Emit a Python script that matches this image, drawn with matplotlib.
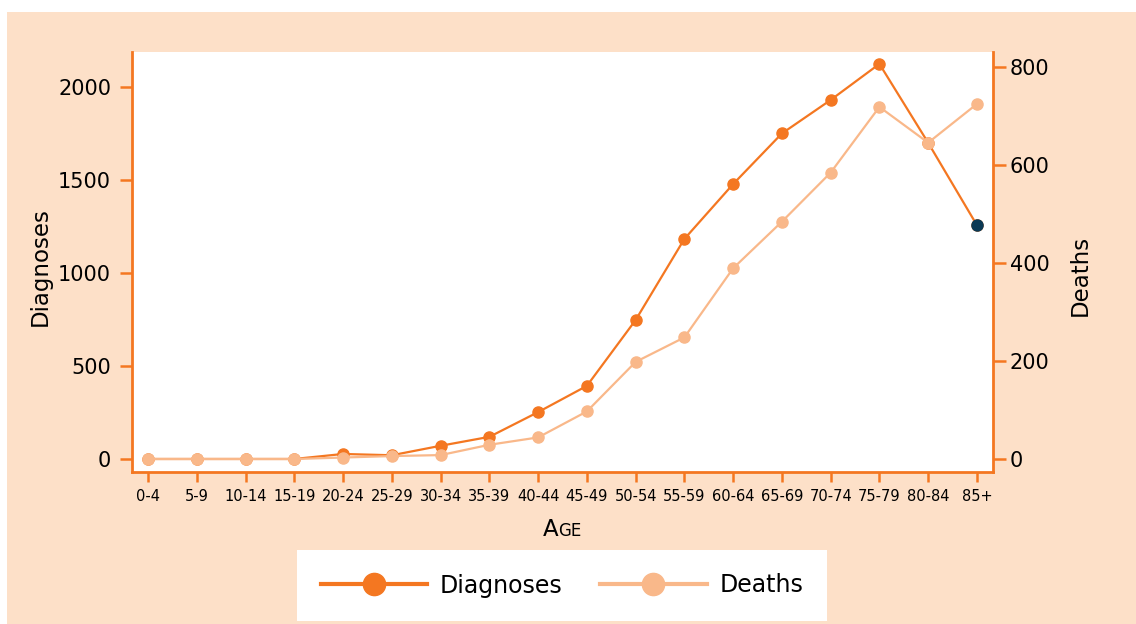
import matplotlib.pyplot as plt
from matplotlib.lines import Line2D
from matplotlib.patches import Rectangle

# data
age_groups = ['0-4', '5-9', '10-14', '15-19', '20-24', '25-29', '30-34', '35-39', '40-44',
              '45-49', '50-54', '55-59', '60-64', '65-69', '70-74', '75-79', '80-84', '85+']
diagnoses = [0, 0, 0, 0, 27, 20, 71, 119, 252, 393, 747, 1183, 1478, 1750, 1930, 2124, 1700, 1257]
deaths = [0, 0, 0, 0, 3, 6, 8, 29, 44, 97, 198, 248, 389, 484, 584, 718, 645, 724]

orange = '#f47721'
light = '#f9b88a'
peach = '#fde0c8'
navy = '#0b3954'

plt.rcParams['font.family'] = ['DejaVu Sans']

fig = plt.figure(figsize=(11.36, 6.24), dpi=100)
fig.patch.set_facecolor('white')
# peach panel behind everything
fig.patches.append(Rectangle((7 / 1136, 0), 1 - 7 / 1136, 1 - 12 / 624,
                             transform=fig.transFigure, facecolor=peach, edgecolor='none', zorder=-10))

ax = fig.add_axes([132 / 1136, 1 - 472 / 624, 861 / 1136, 420 / 624])
ax.set_facecolor('white')
ax2 = ax.twinx()

x = list(range(len(age_groups)))

# diagnoses on the left axis
ax.plot(x, diagnoses, color=orange, lw=1.6, marker='o', markersize=8, zorder=3)
ax.plot(x[-1], diagnoses[-1], 'o', color=navy, markersize=8, zorder=4)

# deaths on the right axis
ax2.plot(x, deaths, color=light, lw=1.6, marker='o', markersize=8, zorder=3)

ax.set_xlim(-0.33, len(age_groups) - 1 + 0.33)
ax.set_ylim(-70, 2188)
ax2.set_ylim(-26.5, 830)

ax.set_xticks(x)
ax.set_xticklabels(age_groups, fontsize=10)
ax.set_yticks([0, 500, 1000, 1500, 2000])
ax2.set_yticks([0, 200, 400, 600, 800])

for a in (ax, ax2):
    for s in a.spines.values():
        s.set_color(orange)
        s.set_linewidth(2)
    a.spines['top'].set_visible(False)
ax.spines['right'].set_visible(False)
ax2.spines['left'].set_visible(False)
ax2.spines['bottom'].set_visible(False)

ax.tick_params(axis='y', colors=orange, labelcolor='black', labelsize=15, length=9, width=1.8, pad=6)
ax.tick_params(axis='x', colors=orange, labelcolor='black', labelsize=10.5, length=7, width=1.8, pad=5)
ax2.tick_params(axis='y', colors=orange, labelcolor='black', labelsize=15, length=9, width=1.8, pad=3)

ax.text(-0.107, 0.49, 'Diagnoses', transform=ax.transAxes, rotation=90,
        ha='center', va='center', fontsize=16.5)
ax.text(1.101, 0.469, 'Deaths', transform=ax.transAxes, rotation=90,
        ha='center', va='center', fontsize=16.5)

# small caps style "Age"
fig.text(558 / 1136, 1 - 536 / 624, 'A', fontsize=16.5, ha='right', va='baseline')
fig.text(558 / 1136, 1 - 536 / 624, 'GE', fontsize=12, ha='left', va='baseline')

handles = [Line2D([], [], color=orange, lw=3, marker='o', markersize=16),
           Line2D([], [], color=light, lw=3, marker='o', markersize=16)]
leg = fig.legend(handles, ['Diagnoses', 'Deaths'], loc='center',
                 bbox_to_anchor=(562 / 1136, 1 - 585.5 / 624), ncol=2, fontsize=17,
                 frameon=True, fancybox=False, framealpha=1, facecolor='white',
                 edgecolor='none', handlelength=4.5, handletextpad=0.55,
                 columnspacing=1.6, borderpad=1.0, numpoints=1)

plt.savefig('out.png', dpi=100)
